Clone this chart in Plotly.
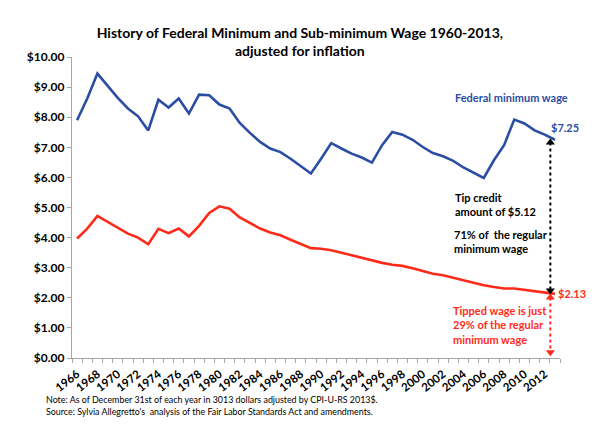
import plotly.graph_objects as go

years = list(range(1966, 2014))
federal_min = [7.90, 8.62, 9.45, 9.03, 8.64, 8.29, 8.03, 7.56, 8.58, 8.32,
               8.62, 8.12, 8.75, 8.73, 8.42, 8.29, 7.81, 7.48, 7.18, 6.96,
               6.84, 6.62, 6.38, 6.13, 6.62, 7.14, 6.96, 6.79, 6.66, 6.49,
               7.07, 7.51, 7.42, 7.25, 7.01, 6.81, 6.70, 6.55, 6.33, 6.15,
               5.98, 6.57, 7.07, 7.92, 7.79, 7.56, 7.42, 7.25]
tipped_min = [3.97, 4.30, 4.72, 4.52, 4.32, 4.13, 4.00, 3.78, 4.29, 4.15,
              4.30, 4.04, 4.39, 4.82, 5.04, 4.96, 4.67, 4.48, 4.30, 4.17,
              4.08, 3.93, 3.80, 3.65, 3.63, 3.58, 3.50, 3.41, 3.33, 3.25,
              3.16, 3.10, 3.06, 2.98, 2.89, 2.80, 2.75, 2.67, 2.58, 2.49,
              2.42, 2.36, 2.31, 2.31, 2.27, 2.22, 2.18, 2.13]
tick_years = list(range(1966, 2013, 2))
y_ticks = [0, 1, 2, 3, 4, 5, 6, 7, 8, 9, 10]

# dotted double arrows: gap between the two wages, and tipped wage to zero
tip_arrow = [7.16, 2.24]
sub_arrow = [2.01, 0.19]
arrow_x = 2012.55

BLUE = "#2B4DA3"
RED = "#FF2B1A"
GREY = "#A6A6A6"
FONT = "Lato"

fig = go.Figure()
fig.add_trace(go.Scatter(x=years, y=federal_min, mode="lines",
                         line=dict(color=BLUE, width=2.6), name="Federal minimum wage"))
fig.add_trace(go.Scatter(x=years, y=tipped_min, mode="lines",
                         line=dict(color=RED, width=2.6), name="Tipped minimum wage"))
fig.add_trace(go.Scatter(x=[arrow_x, arrow_x], y=tip_arrow, mode="lines+markers",
                         line=dict(color="black", width=2, dash="dot"),
                         marker=dict(symbol=["triangle-up", "triangle-down"], size=8, color="black")))
fig.add_trace(go.Scatter(x=[arrow_x, arrow_x], y=sub_arrow, mode="lines+markers",
                         line=dict(color=RED, width=2, dash="dot"),
                         marker=dict(symbol=["triangle-up", "triangle-down"], size=8, color=RED)))

notes = [
    (2003.0, 8.66, "Federal minimum wage", BLUE),
    (2012.4, 7.66, "$7.25", BLUE),
    (2013.15, 2.15, "$2.13", RED),
    (2003.0, 5.11, "Tip credit<br>amount of $5.12", "black"),
    (2002.9, 3.87, "71% of  the regular<br>minimum wage", "black"),
    (2002.8, 1.09, "Tipped wage is just<br>29% of the regular<br>minimum wage", RED),
]
for x, y, txt, col in notes:
    fig.add_annotation(x=x, y=y, text=f"<b>{txt}</b>", showarrow=False,
                       xanchor="left", yanchor="middle", align="left",
                       font=dict(family=FONT, size=11, color=col))

fig.add_annotation(xref="paper", yref="paper", x=-0.057, y=-0.139,
                   text="Note: As of December 31st of each year in 3013 dollars adjusted by CPI-U-RS 2013$.",
                   showarrow=False, xanchor="left", yanchor="middle",
                   font=dict(family=FONT, size=8.9, color="black"))
fig.add_annotation(xref="paper", yref="paper", x=-0.057, y=-0.177,
                   text="Source: Sylvia Allegretto's  analysis of the Fair Labor Standards Act and amendments.",
                   showarrow=False, xanchor="left", yanchor="middle",
                   font=dict(family=FONT, size=8.9, color="black"))

# page body adds an 8px margin, so the figure is 8px smaller than the window
fig.update_layout(
    width=592, height=423,
    margin=dict(l=64, r=40, t=49, b=73),
    paper_bgcolor="white", plot_bgcolor="white",
    showlegend=False,
    title=dict(text="<b>History of Federal Minimum and Sub-minimum Wage 1960-2013,<br>adjusted for inflation</b>",
               x=0.493, xref="container", xanchor="center", y=0.930, yanchor="middle",
               font=dict(family=FONT, size=14, color="black")),
    font=dict(family=FONT, color="black"),
)
fig.update_xaxes(
    range=[1965.5, 2013.5], tickvals=tick_years, ticktext=[str(y) for y in tick_years],
    tickangle=-38, ticks="outside", ticklen=4, tickcolor="rgba(0,0,0,0)",
    showgrid=False, zeroline=False, automargin=False,
    showline=True, linecolor=GREY, linewidth=1.3,
    tickfont=dict(family=FONT, size=11.5, color="black", weight="bold"),
    minor=dict(tickvals=[y - 0.5 for y in years] + [years[-1] + 0.5],
               ticks="outside", ticklen=4, tickcolor=GREY, tickwidth=1, showgrid=False),
)
fig.update_yaxes(
    range=[0, 10], tickvals=y_ticks, ticktext=[f"${v:.2f}" for v in y_ticks],
    ticks="outside", ticklen=4, tickcolor=GREY, showgrid=False, zeroline=False,
    automargin=False, showline=True, linecolor=GREY, linewidth=1.3,
    tickfont=dict(family=FONT, size=12, color="black", weight="bold"),
)

fig.write_html("out.html")
